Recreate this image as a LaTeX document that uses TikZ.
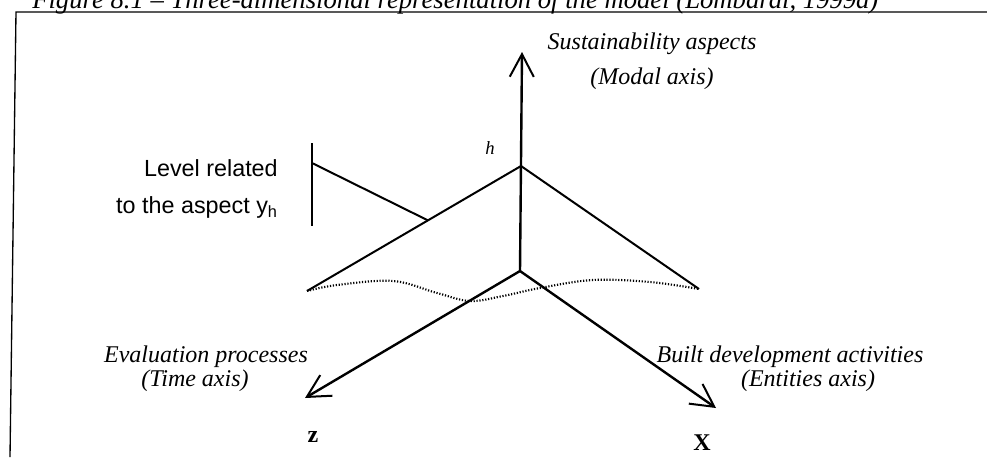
\documentclass[tikz,border=0pt]{standalone}
\usepackage{fontspec}
\setmainfont{Liberation Serif}
\newfontfamily\arialfont{Liberation Sans}
\usetikzlibrary{positioning,arrows.meta,calc}

\begin{document}
\begin{tikzpicture}[x=0.75pt, y=-0.75pt,
    axis/.style={line width=1.8pt,
      -{Straight Barb[length=17pt, width=18pt, line width=1.5pt]}},
    roof/.style={line width=1.5pt},
    wave/.style={line width=1.6pt, dash pattern=on 0.9pt off 1.3pt},
    axislabel/.style={font=\fontsize{18}{26}\selectfont\itshape,
      inner sep=0pt, align=center},
    axisname/.style={font=\fontsize{18}{20}\selectfont\bfseries, inner sep=0pt}]
  \useasboundingbox (0,0) rectangle (987,457);

  % frame of the figure, with the caption cut off at the top
  \coordinate (frametr) at (987,12);
  \coordinate (frametl) at (16,12);
  \coordinate (framebl) at (10,457);
  \draw[line width=1pt] (frametr) -- (frametl) -- (framebl);
  \node[anchor=base west, inner sep=0pt, font=\fontsize{20}{24}\selectfont\itshape]
    (caption) at (32,8)
    {Figure 8.1 -- Three-dimensional representation of the model (Lombardi, 1999a)};

  % the three axes
  \coordinate (origin) at (520,271);
  \coordinate (ytip) at (522,52);
  \coordinate (ztip) at (305,398);
  \coordinate (xtip) at (716,408);
  \draw[axis] (origin) -- (ytip);
  \draw[axis] (origin) -- (ztip);
  \draw[axis] (origin) -- (xtip);

  % level of the aspect: roof over the axes and its dotted base
  \coordinate (peak) at (521,166);
  \coordinate (leftend) at (307,291);
  \coordinate (rightend) at (699,289);
  \draw[roof] (leftend) -- (peak) -- (rightend);
  \draw[wave] plot[smooth, tension=0.6] coordinates
    {(leftend) (337,285) (393,281) (437,293) (470,301) (503,296)
     (540,288) (593,280) (650,282) (rightend)};

  % marker for the level y_h
  \coordinate (bartop) at (312,143);
  \coordinate (barbottom) at (312,226);
  \coordinate (barmid) at (312,163);
  \coordinate (foot) at ($(leftend)!0.565!(peak)$);
  \draw[roof] (bartop) -- (barbottom);
  \draw[roof] (barmid) -- (foot);
  \node[anchor=east, align=right, inner sep=0pt,
        font=\arialfont\fontsize{17.5}{28}\selectfont] (levellabel) at (278,189)
    {Level related\\to the aspect y\textsubscript{h}};

  \node[font=\fontsize{14}{17}\selectfont\itshape, inner sep=0pt] (hlabel)
    at (490,148) {h};

  % axis labels
  \node[axislabel] (modal) at (652,61) {Sustainability aspects\\(Modal axis)};
  \node[axislabel] (evalproc) at (206,357) {Evaluation processes};
  \node[axislabel] (timeaxis) at (195,381) {(Time axis)};
  \node[axislabel] (builtdev) at (790,357) {Built development activities};
  \node[axislabel] (entaxis) at (808,381) {(Entities axis)};
  \node[axisname] (zlabel) at (313,437) {z};
  \node[axisname] (xlabel) at (702,443) {X};
\end{tikzpicture}
\end{document}
